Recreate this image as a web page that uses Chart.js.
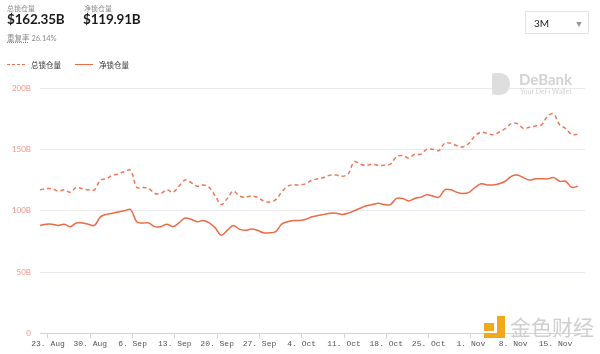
<!DOCTYPE html>
<html>
<head>
<meta charset="utf-8">
<script src="https://cdn.jsdelivr.net/npm/chart.js@4"></script>
<style>
  body { margin: 0; width: 600px; height: 354px; background: #fff; font-family: Lato, "Noto Sans CJK SC", sans-serif; overflow: hidden; }
  #wrap { position: relative; width: 600px; height: 354px; }
  #chart { position: absolute; left: 0; top: 0; }
  .lbl { position: absolute; font-size: 7px; color: #8a8a8a; }
  .big { position: absolute; font-size: 13.5px; font-weight: bold; color: #1a1a1a; letter-spacing: -0.2px; }
  .leg { position: absolute; font-size: 7.5px; color: #333; }
  .sel { position: absolute; left: 525px; top: 11px; width: 64px; height: 23px; border: 1px solid #e3e3e3; box-sizing: border-box; font-size: 10px; color: #222; }
  .mark { position: absolute; font-family: "Noto Sans CJK SC"; font-size: 21px; color: #cfcfcf; }
</style>
</head>
<body>
<div id="wrap">
  <canvas id="chart" width="600" height="354"></canvas>
  <div class="lbl" style="left:7px;top:3px;">总锁仓量</div>
  <div class="big" style="left:7px;top:11px;">$162.35B</div>
  <div class="lbl" style="left:84px;top:3px;">净锁仓量</div>
  <div class="big" style="left:83px;top:11px;">$119.91B</div>
  <div class="lbl" style="left:7px;top:32px;font-size:7.5px;"><span style="text-decoration:underline dotted;">重复率</span> 26.14%</div>
  <div class="sel"><span style="position:absolute;left:8px;top:5px;">3M</span><span style="position:absolute;left:50px;top:7px;font-size:6px;color:#999;">▼</span></div>
  <div style="position:absolute;left:7px;top:64px;width:18px;border-top:1.5px dashed #ee7055;"></div>
  <div class="leg" style="left:31px;top:59px;">总锁仓量</div>
  <div style="position:absolute;left:75px;top:64px;width:18px;border-top:1.5px solid #ec6a45;"></div>
  <div class="leg" style="left:99px;top:59px;">净锁仓量</div>
  <div style="position:absolute;left:492px;top:73px;width:18px;height:22px;background:#dedede;border-radius:3px 10px 10px 3px;"></div>
  <div style="position:absolute;left:519px;top:70px;font-size:15px;font-weight:bold;color:#d2d2d2;">DeBank</div>
  <div style="position:absolute;left:520px;top:87px;font-size:7px;color:#d2d2d2;">Your DeFi Wallet</div>
  <div style="position:absolute;left:484px;top:323px;width:10px;height:8px;background:#f2a81d;"></div>
  <div style="position:absolute;left:497px;top:316px;width:8px;height:22px;background:#f2a81d;"></div>
  <div style="position:absolute;left:484px;top:333px;width:21px;height:5px;background:#f2a81d;"></div>
  <div class="mark" style="left:510px;top:311px;">金色财经</div>
</div>
<script>
// daily values (billions), first point ~21 Aug
var totalTvl = [117, 118, 118, 116, 117, 115, 119, 118, 117, 117,
                125, 126, 129, 130, 132, 133, 119, 119, 118, 114,
                114, 117, 115, 120, 125, 123, 120, 121, 119, 112,
                105, 110, 116, 112, 111, 112, 111, 108, 107, 109,
                115, 120, 121, 121, 122, 125, 126, 127, 129, 129,
                128, 130, 140, 138, 137, 138, 137, 137, 138, 144,
                145, 143, 146, 146, 150, 150, 149, 155, 155, 153,
                152, 155, 161, 164, 163, 162, 164, 167, 171, 171,
                167, 168, 169, 170, 177, 179, 170, 167, 162, 162.35];
var netTvl = [88, 89, 89, 88, 89, 87, 90, 90, 89, 88,
              95, 97, 98, 99, 100, 101, 91, 90, 90, 87,
              87, 89, 87, 90, 94, 93, 91, 92, 90, 86,
              80, 84, 88, 85, 84, 85, 84, 82, 82, 83,
              89, 91, 92, 92, 93, 95, 96, 97, 98, 98,
              97, 98, 100, 102, 104, 105, 106, 105, 105, 110,
              110, 108, 110, 111, 113, 112, 111, 117, 117, 115,
              114, 115, 119, 122, 121, 121, 122, 124, 128, 129,
              127, 125, 126, 126, 126, 127, 124, 124, 119, 119.91];
var weekLabels = ['23. Aug', '30. Aug', '6. Sep', '13. Sep', '20. Sep', '27. Sep', '4. Oct',
                  '11. Oct', '18. Oct', '25. Oct', '1. Nov', '8. Nov', '15. Nov'];
var firstTick = 1.32; // 23 Aug, in days from first point
var yTicks = [0, 50, 100, 150, 200];

function toPoints(arr) {
    return arr.map(function (v, i) { return { x: i, y: v }; });
}

var ctx = document.getElementById('chart').getContext('2d');
new Chart(ctx, {
    type: 'line',
    data: {
        datasets: [
            {
                label: '总锁仓量',
                data: toPoints(totalTvl),
                borderColor: '#ef7659',
                borderWidth: 1.5,
                borderDash: [4, 3],
                pointRadius: 0,
                tension: 0.35,
                fill: false
            },
            {
                label: '净锁仓量',
                data: toPoints(netTvl),
                borderColor: '#ec6a45',
                borderWidth: 1.5,
                pointRadius: 0,
                tension: 0.35,
                fill: false
            }
        ]
    },
    options: {
        responsive: false,
        animation: false,
        layout: { padding: { top: 88, right: 15, left: 0, bottom: 4 } },
        plugins: { legend: { display: false }, tooltip: { enabled: false } },
        scales: {
            x: {
                type: 'linear',
                min: 0,
                max: 90.2,
                afterBuildTicks: function (scale) {
                    scale.ticks = weekLabels.map(function (l, k) { return { value: firstTick + 7 * k }; });
                },
                ticks: {
                    autoSkip: false,
                    maxRotation: 0,
                    padding: 1,
                    color: '#555',
                    font: { family: 'Liberation Mono', size: 8 },
                    callback: function (v, idx) { return weekLabels[idx]; }
                },
                grid: { drawOnChartArea: false, tickLength: 5, color: '#ccd6eb' },
                border: { color: '#ccd6eb' }
            },
            y: {
                min: 0,
                max: 200,
                afterBuildTicks: function (scale) {
                    scale.ticks = yTicks.map(function (v) { return { value: v }; });
                },
                afterFit: function (scale) { scale.width = 40; },
                ticks: {
                    padding: 9,
                    color: '#f0958a',
                    font: { family: 'Lato', size: 8 },
                    callback: function (v) { return v === 0 ? '0' : v + 'B'; }
                },
                grid: { drawTicks: false, color: '#e8e8ee' },
                border: { display: false }
            }
        }
    }
});
</script>
</body>
</html>
